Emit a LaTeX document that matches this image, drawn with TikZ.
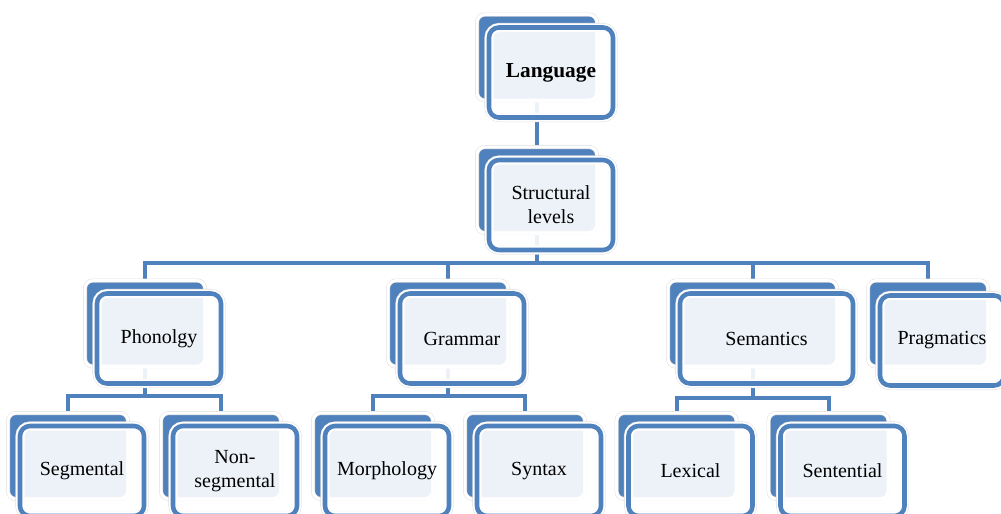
\documentclass[tikz,border=0pt]{standalone}
\usepackage{fontspec}
\setmainfont{Liberation Serif}
\usetikzlibrary{backgrounds}
\definecolor{boxblue}{RGB}{79,129,189}

\begin{document}
\begin{tikzpicture}[x=0.75pt,y=-0.75pt,
  back box/.style={rectangle,rounded corners=6pt,fill=boxblue,draw=black!12,double=white,
    double distance=2.2pt,line width=0.4pt,minimum width=90pt,minimum height=64.5pt},
  text box/.style={rectangle,rounded corners=7.5pt,fill=white,fill opacity=0.9,text opacity=1,
    draw=boxblue,line width=3.4pt,preaction={draw=black!12,line width=6.8pt},
    preaction={draw=white,line width=6pt},
    minimum width=93pt,minimum height=67.5pt,align=center,
    font=\fontsize{15}{18}\selectfont},
  link/.style={draw=boxblue,line width=3pt}]
  \useasboundingbox (0,0) rectangle (1001,514);

  % top
  \node[back box] (lang) at (537,57.5) {};
  \node[text box,font=\fontsize{16}{18}\selectfont\bfseries] (lang-t) at ([shift={(14,15)}]lang.center) {Language};
  \node[back box] (struct) at (537,190) {};
  \node[text box] (struct-t) at ([shift={(14,15)}]struct.center) {Structural\\levels};

  % second row
  \node[back box] (phon) at (145,323.5) {};
  \node[text box] (phon-t) at ([shift={(14,15)}]phon.center) {Phonolgy};
  \node[back box] (gram) at (448,323.5) {};
  \node[text box] (gram-t) at ([shift={(14,15)}]gram.center) {Grammar};
  \node[back box,minimum width=126.75pt] (sem) at (752.5,323.5) {};
  \node[text box,minimum width=129.75pt] (sem-t) at ([shift={(14,15)}]sem.center) {Semantics};
  \node[back box] (prag) at (928,323.5) {};
  \node[text box] (prag-t) at ([shift={(14,17)}]prag.center) {Pragmatics};

  % third row
  \node[back box] (seg) at (68,456) {};
  \node[text box] (seg-t) at ([shift={(14,15)}]seg.center) {Segmental};
  \node[back box] (nonseg) at (221,456) {};
  \node[text box] (nonseg-t) at ([shift={(14,15)}]nonseg.center) {Non-\\segmental};
  \node[back box] (morph) at (373,456) {};
  \node[text box] (morph-t) at ([shift={(14,15)}]morph.center) {Morphology};
  \node[back box] (syn) at (525,456) {};
  \node[text box] (syn-t) at ([shift={(14,15)}]syn.center) {Syntax};
  \node[back box] (lex) at (676.5,456) {};
  \node[text box] (lex-t) at ([shift={(14,15)}]lex.center) {Lexical};
  \node[back box] (sent) at (828.5,456) {};
  \node[text box] (sent-t) at ([shift={(14,15)}]sent.center) {Sentential};

  % connectors
  \begin{scope}[on background layer]
    \draw[link] (lang.center) -- (struct.center);
    \draw[link] (struct.center) -- ++(0,73) coordinate (bus1);
    \draw[link] (bus1) -| (phon.center);
    \draw[link] (bus1) -| (gram.center);
    \draw[link] (bus1) -| (sem.center);
    \draw[link] (bus1) -| (prag.center);
    \draw[link] (phon.center) -- ++(0,72.5) coordinate (bus2);
    \draw[link] (bus2) -| (seg.center);
    \draw[link] (bus2) -| (nonseg.center);
    \draw[link] (gram.center) -- ++(0,72.5) coordinate (bus3);
    \draw[link] (bus3) -| (morph.center);
    \draw[link] (bus3) -| (syn.center);
    \draw[link] (sem.center) -- ++(0,74) coordinate (bus4);
    \draw[link] (bus4) -| (lex.center);
    \draw[link] (bus4) -| (sent.center);
  \end{scope}
\end{tikzpicture}
\end{document}
